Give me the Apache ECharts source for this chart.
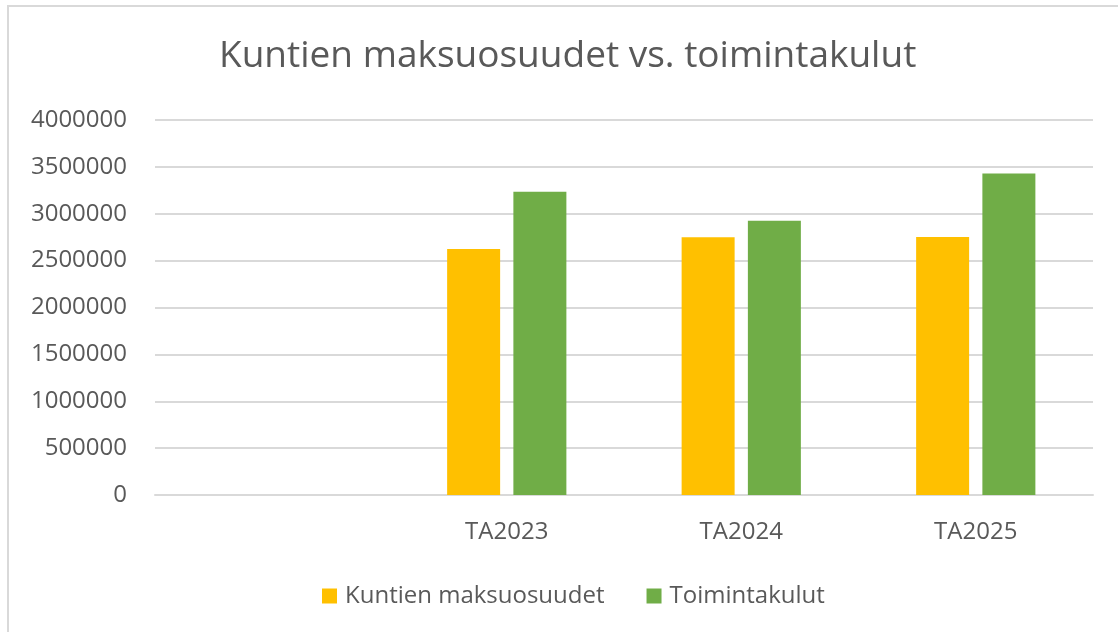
<!DOCTYPE html>
<html>
<head>
<meta charset="utf-8">
<script src="https://cdn.jsdelivr.net/npm/echarts@6/dist/echarts.min.js"></script>
<style>
html,body{margin:0;padding:0;background:#fff;}
#frame{position:absolute;left:7px;top:5px;width:1120px;height:640px;border-left:2px solid #d9d9d9;border-top:2px solid #d9d9d9;box-sizing:border-box;}
#chart{position:absolute;left:0;top:0;width:1118px;height:632px;}
</style>
</head>
<body>
<div id="frame"></div>
<div id="chart"></div>
<script>
const categories = ['', 'TA2023', 'TA2024', 'TA2025'];
const maksuosuudet = [null, 2625000, 2750000, 2752000];
const toimintakulut = [null, 3235000, 2926000, 3430000];
const yTicks = [0, 500000, 1000000, 1500000, 2000000, 2500000, 3000000, 3500000, 4000000];
const seriesNames = ['Kuntien maksuosuudet', 'Toimintakulut'];
const titleText = 'Kuntien maksuosuudet vs. toimintakulut';

const FONT = 'Open Sans';
const chart = echarts.init(document.getElementById('chart'), null, {renderer: 'canvas'});
chart.setOption({
  animation: false,
  backgroundColor: 'transparent',
  title: {
    text: titleText,
    left: 219,
    top: 38,
    padding: 0,
    textStyle: {fontFamily: FONT, fontSize: 37, fontWeight: 'normal', color: '#595959'}
  },
  legend: {
    data: seriesNames,
    top: 584,
    left: 322,
    padding: 0,
    itemWidth: 15,
    itemHeight: 15,
    itemGap: 42,
    icon: 'rect',
    textStyle: {fontFamily: FONT, fontSize: 24, color: '#595959', padding: [0, 0, 0, 3]}
  },
  grid: {left: 155, right: 25, top: 120, bottom: 137, containLabel: false},
  xAxis: {
    type: 'category',
    data: categories,
    axisLine: {lineStyle: {color: '#d9d9d9', width: 2}},
    axisTick: {show: false},
    axisLabel: {fontFamily: FONT, fontSize: 24, color: '#595959', margin: 25}
  },
  yAxis: {
    type: 'value',
    min: yTicks[0],
    max: yTicks[yTicks.length - 1],
    interval: yTicks[1] - yTicks[0],
    axisLine: {show: false},
    axisTick: {show: false},
    splitLine: {lineStyle: {color: '#d9d9d9', width: 2}},
    axisLabel: {fontFamily: FONT, fontSize: 24, color: '#595959', margin: 28, formatter: function (v) { return String(v); }}
  },
  series: [
    {name: seriesNames[0], type: 'bar', data: maksuosuudet, barWidth: 53, barGap: '25%', itemStyle: {color: '#FFC000'}},
    {name: seriesNames[1], type: 'bar', data: toimintakulut, barWidth: 53, barGap: '25%', itemStyle: {color: '#70AD47'}}
  ]
});
</script>
</body>
</html>
